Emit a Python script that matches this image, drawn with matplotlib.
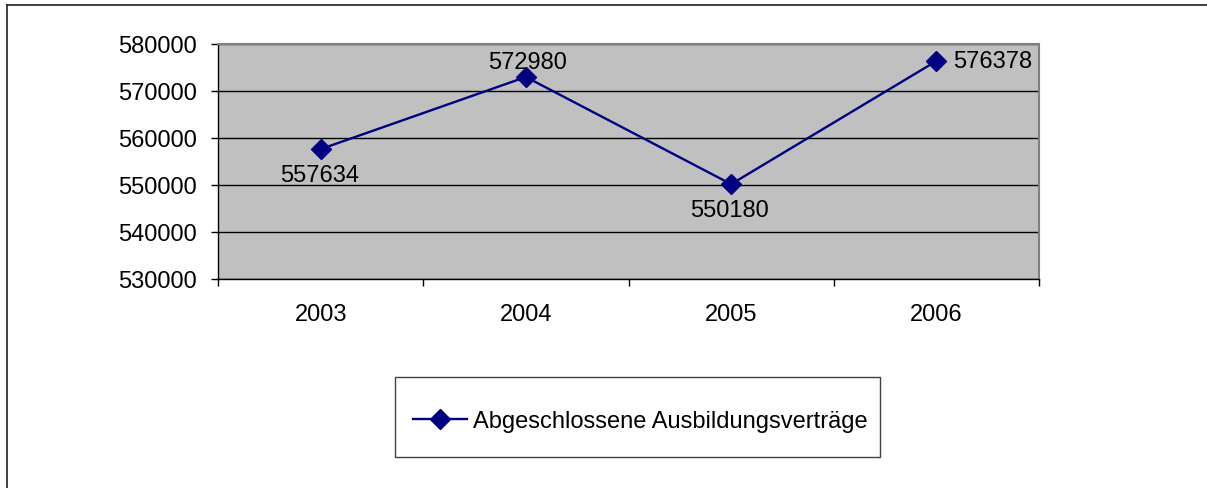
import matplotlib.pyplot as plt
from matplotlib.lines import Line2D
from matplotlib.patches import Rectangle

# Data
years = ["2003", "2004", "2005", "2006"]
vertraege = [557634, 572980, 550180, 576378]
label_pos = ["below", "above", "below", "right"]
series_name = "Abgeschlossene Ausbildungsverträge"

plt.rcParams["font.family"] = ["Liberation Sans", "DejaVu Sans"]
plt.rcParams["font.size"] = 17

fig = plt.figure(figsize=(12.07, 4.89), dpi=100)
W, H = 1207, 489
ax = fig.add_axes([218 / W, 1 - 280 / H, (1039 - 218) / W, (280 - 45) / H])
ax.set_facecolor("#c0c0c0")

x = range(len(years))
ax.plot(x, vertraege, color="#000080", lw=1.7, marker="D", ms=10.5,
        label=series_name, zorder=3)

# Data labels (offsets in points, like excel's label placement)
offsets = {"below": ((-1, -18.5), "center"),
           "above": ((1, 11), "center"),
           "right": ((12, 0), "left")}
for i, v in enumerate(vertraege):
    off, ha = offsets[label_pos[i]]
    ax.annotate(str(v), (i, v), xytext=off, textcoords="offset points",
                ha=ha, va="center", fontsize=17, zorder=4)

ax.set_xlim(-0.5, len(years) - 0.5)
ax.set_ylim(530000, 580000)
ax.set_yticks(range(530000, 580001, 10000))
ax.set_xticks([i - 0.5 for i in range(len(years) + 1)])
ax.set_xticklabels([])
ax.set_xticks(list(x), minor=True)
ax.set_xticklabels(years, minor=True)
ax.tick_params(axis="x", which="minor", length=0, pad=17.5)
ax.tick_params(axis="x", which="major", length=5, width=1, direction="out")
ax.tick_params(axis="y", length=5, width=1, direction="out", pad=10)

ax.yaxis.grid(True, color="black", lw=1)
ax.set_axisbelow(True)
for s in ["top", "right"]:
    ax.spines[s].set_color("#808080")
    ax.spines[s].set_linewidth(1.5)
for s in ["left", "bottom"]:
    ax.spines[s].set_color("black")
    ax.spines[s].set_linewidth(1)

# legend box drawn separately (behind), legend content centered in it
box = (395 / W, 1 - 458 / H, 485 / W, 80 / H)
fig.add_artist(Rectangle(box[:2], box[2], box[3], transform=fig.transFigure,
                         facecolor="white", edgecolor="#404040", lw=1, zorder=-1))
leg_box = (box[0] + 3 / W, box[1] - 4 / H, box[2], box[3])
ax.legend(loc="center", bbox_to_anchor=leg_box, bbox_transform=fig.transFigure,
          frameon=False, handlelength=2.3, handletextpad=0.25, borderaxespad=0)

# outer chart border (only top and left visible)
fig.add_artist(Line2D([7 / W, 7 / W], [0, 1 - 6 / H], color="#202020", lw=1.2))
fig.add_artist(Line2D([7 / W, 1], [1 - 6 / H, 1 - 6 / H], color="#202020", lw=1.2))

fig.savefig("out.png", dpi=100)
